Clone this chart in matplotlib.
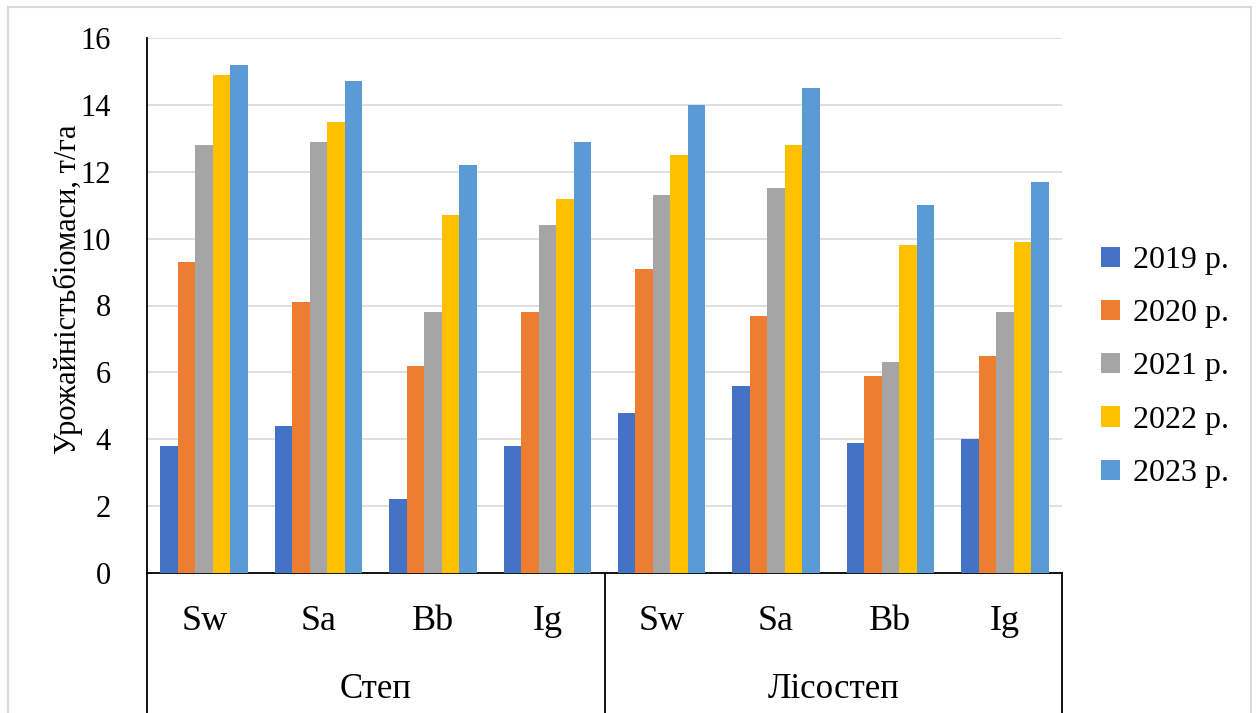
import numpy as np
import matplotlib
matplotlib.use("Agg")
import matplotlib.pyplot as plt
import matplotlib.transforms as mtransforms
from matplotlib.patches import Rectangle

plt.rcParams["font.family"] = ["Liberation Serif", "DejaVu Serif"]

# data
crops = ["Sw", "Sa", "Bb", "Ig", "Sw", "Sa", "Bb", "Ig"]
zones = ["Степ", "Лісостеп"]
years = ["2019 р.", "2020 р.", "2021 р.", "2022 р.", "2023 р."]
y2019 = [3.8, 4.4, 2.2, 3.8, 4.8, 5.6, 3.9, 4.0]
y2020 = [9.3, 8.1, 6.2, 7.8, 9.1, 7.7, 5.9, 6.5]
y2021 = [12.8, 12.9, 7.8, 10.4, 11.3, 11.5, 6.3, 7.8]
y2022 = [14.9, 13.5, 10.7, 11.2, 12.5, 12.8, 9.8, 9.9]
y2023 = [15.2, 14.7, 12.2, 12.9, 14.0, 14.5, 11.0, 11.7]
series = [y2019, y2020, y2021, y2022, y2023]
colors = ["#4472C4", "#ED7D31", "#A5A5A5", "#FFC000", "#5B9BD5"]

W, H = 1256, 713
fig = plt.figure(figsize=(W / 100, H / 100), dpi=100)
ax = fig.add_axes([147 / W, 1 - 573 / H, (1062 - 147) / W, (573 - 38) / H])

x = np.arange(len(crops))
bw = 0.153
for i, (vals, c, lab) in enumerate(zip(series, colors, years)):
    ax.bar(x + (i - 2) * bw, vals, width=bw, color=c, label=lab, zorder=3)

ax.set_xlim(-0.5, len(crops) - 0.5)
ax.set_ylim(0, 16)
ax.set_yticks(range(0, 17, 2))
ax.tick_params(axis="y", length=0, labelsize=22, pad=26)
ax.set_xticks([])
ax.grid(axis="y", color="#D9D9D9", lw=1.2, zorder=0)
for s in ["top", "right"]:
    ax.spines[s].set_visible(False)
ax.spines["left"].set_color("black")
ax.spines["bottom"].set_color("black")
ax.spines["left"].set_linewidth(1.3)
ax.spines["bottom"].set_linewidth(1.3)
ax.set_ylabel("Урожайністьбіомаси, т/га", fontsize=22, va="center")
ax.yaxis.set_label_coords(-0.086, 0.53)

# multi-level category axis
trans = mtransforms.blended_transform_factory(ax.transData, ax.transAxes)
for xi, c in zip(x, crops):
    ax.text(xi, -0.09, c, transform=trans, ha="center", va="center", fontsize=26)
for k, z in enumerate(zones):
    ax.text(1.5 + 4 * k, -0.218, z, transform=trans, ha="center", va="center", fontsize=25)
for xb in [-0.5, 3.5, 7.5]:
    ax.plot([xb, xb], [0, -0.27], transform=trans, color="black", lw=1.3, clip_on=False)

fig.legend(loc="center left", bbox_to_anchor=(1072 / W, 1 - 367 / H), frameon=False,
           fontsize=23, handlelength=0.6, handleheight=0.6, handletextpad=0.4,
           labelspacing=0.76)

fig.add_artist(Rectangle((8 / W, -0.02), (1251 - 8) / W, 1.02 - 7 / H,
                         transform=fig.transFigure, fill=False,
                         edgecolor="#D9D9D9", lw=1.5))

fig.savefig("out.png", dpi=100)
